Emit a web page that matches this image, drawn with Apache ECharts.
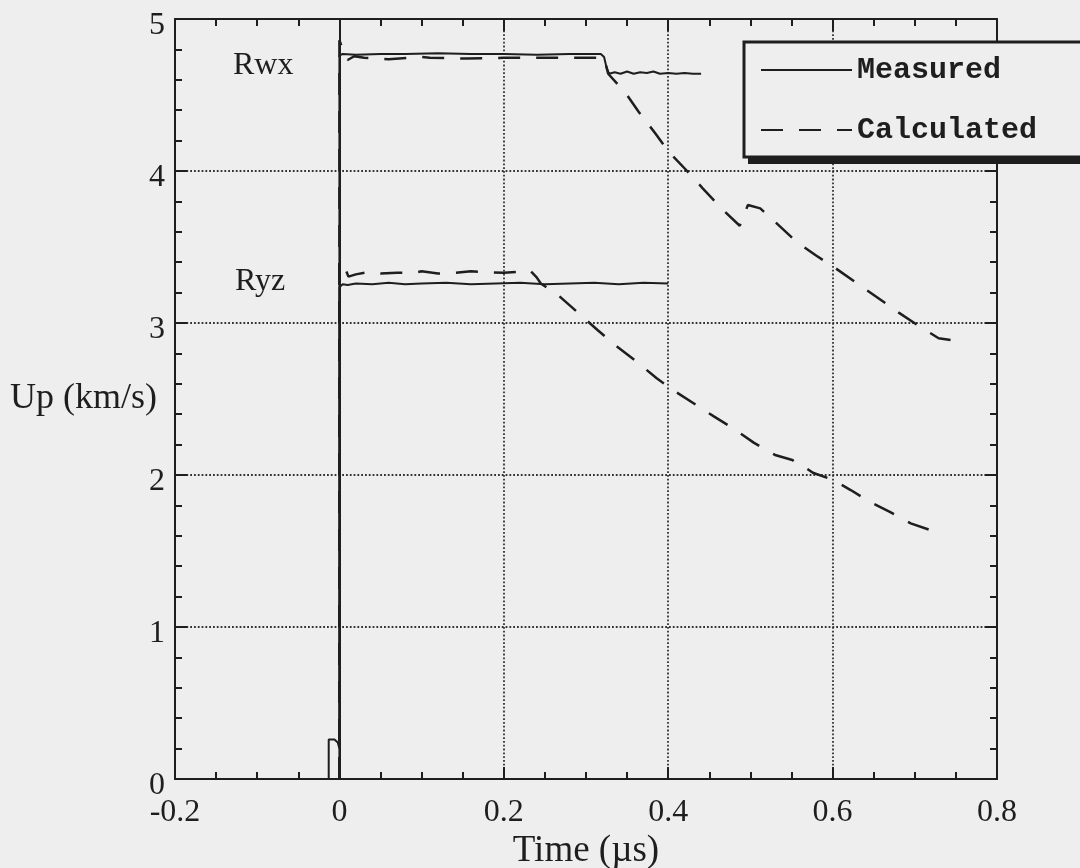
<!DOCTYPE html>
<html>
<head>
<meta charset="utf-8">
<script src="https://cdn.jsdelivr.net/npm/echarts@6/dist/echarts.min.js"></script>
<style>
  html, body { margin: 0; padding: 0; background: #eeeeee; }
  #chart { width: 1080px; height: 868px; }
</style>
</head>
<body>
<div id="chart"></div>
<script>
// Particle velocity histories for the two gauges (time in µs, Up in km/s)

// Rwx gauge, measured
const rwxMeasuredTime = [-0.2, -0.013, -0.013, -0.006, -0.002, 0, 0, 0.004, 0.02, 0.05, 0.08, 0.12, 0.16, 0.2, 0.24, 0.28, 0.318, 0.322, 0.325, 0.328, 0.335, 0.342, 0.35, 0.358, 0.366, 0.374, 0.382, 0.39, 0.4, 0.41, 0.42, 0.43, 0.44];
const rwxMeasuredUp   = [0, 0, 0.26, 0.26, 0.24, 0.20, 4.76, 4.77, 4.765, 4.77, 4.77, 4.775, 4.77, 4.77, 4.765, 4.77, 4.77, 4.75, 4.68, 4.64, 4.65, 4.64, 4.655, 4.64, 4.65, 4.645, 4.655, 4.64, 4.645, 4.64, 4.645, 4.64, 4.64];

// Ryz gauge, measured
const ryzMeasuredTime = [0, 0, 0.004, 0.01, 0.02, 0.04, 0.06, 0.08, 0.1, 0.13, 0.16, 0.19, 0.22, 0.25, 0.28, 0.31, 0.34, 0.37, 0.4];
const ryzMeasuredUp   = [0, 3.235, 3.255, 3.25, 3.26, 3.255, 3.265, 3.255, 3.26, 3.265, 3.255, 3.26, 3.265, 3.255, 3.26, 3.265, 3.255, 3.265, 3.26];

// Rwx gauge, calculated
const rwxCalculatedTime = [0, 0, 0.004, 0.01, 0.018, 0.03, 0.06, 0.1, 0.11, 0.155, 0.2, 0.25, 0.3, 0.322, 0.327, 0.348, 0.364, 0.384, 0.4, 0.423, 0.442, 0.466, 0.487, 0.497, 0.512, 0.531, 0.556, 0.579, 0.601, 0.63, 0.654, 0.68, 0.703, 0.729, 0.753, 0.759];
const rwxCalculatedUp   = [0, 4.86, 4.8, 4.73, 4.755, 4.745, 4.735, 4.75, 4.745, 4.74, 4.745, 4.745, 4.745, 4.745, 4.64, 4.515, 4.39, 4.25, 4.13, 4.0, 3.886, 3.748, 3.64, 3.776, 3.754, 3.66, 3.535, 3.447, 3.37, 3.26, 3.17, 3.07, 2.987, 2.9, 2.88, 2.9];

// Ryz gauge, calculated
const ryzCalculatedTime = [0, 0, 0.004, 0.011, 0.02, 0.035, 0.05, 0.07, 0.09, 0.1, 0.12, 0.14, 0.16, 0.18, 0.2, 0.215, 0.225, 0.232, 0.24, 0.245, 0.266, 0.291, 0.314, 0.338, 0.359, 0.386, 0.409, 0.434, 0.456, 0.481, 0.504, 0.53, 0.551, 0.559, 0.565, 0.576, 0.601, 0.622, 0.645, 0.669, 0.695, 0.721];
const ryzCalculatedUp   = [0, 3.41, 3.4, 3.305, 3.32, 3.335, 3.325, 3.33, 3.33, 3.34, 3.325, 3.33, 3.34, 3.335, 3.33, 3.335, 3.335, 3.345, 3.3, 3.26, 3.184, 3.064, 2.954, 2.844, 2.757, 2.636, 2.548, 2.461, 2.384, 2.3, 2.213, 2.132, 2.099, 2.066, 2.055, 2.015, 1.967, 1.901, 1.824, 1.759, 1.682, 1.634];

const zip = (xs, ys) => xs.map((x, i) => [x, ys[i]]);

const ink = '#1e1e1e';
const paper = '#eeeeee';
const serif = 'Liberation Serif';

const gridLine = { show: true, lineStyle: { color: '#333', width: 1.8, type: [1.8, 2] } };

function bottomOrLeft(isX) {
  const label = {
    color: ink, fontFamily: serif, fontSize: 32,
    margin: isX ? 18 : 10,
    formatter: v => String(Math.round(v * 10) / 10)
  };
  if (!isX) {
    // y labels sit slightly below their tick
    label.verticalAlign = 'top';
    label.lineHeight = 14;
  }
  return {
    type: 'value',
    min: isX ? -0.2 : 0,
    max: isX ? 0.8 : 5,
    interval: isX ? 0.2 : 1,
    axisLine: { show: true, onZero: false, lineStyle: { color: ink, width: 2 } },
    axisTick: { show: true, inside: true, length: 12, lineStyle: { color: ink, width: 2 } },
    minorTick: { show: true, splitNumber: isX ? 4 : 5, length: 7, lineStyle: { color: ink, width: 2 } },
    splitLine: gridLine,
    minorSplitLine: { show: false },
    axisLabel: label
  };
}

function topOrRight(isX) {
  return {
    type: 'value',
    position: isX ? 'top' : 'right',
    min: isX ? -0.2 : 0,
    max: isX ? 0.8 : 5,
    interval: isX ? 0.2 : 1,
    axisLine: { show: true, onZero: false, lineStyle: { color: ink, width: 2 } },
    axisTick: { show: true, inside: true, length: 12, lineStyle: { color: ink, width: 2 } },
    minorTick: { show: true, splitNumber: isX ? 4 : 5, length: 7, lineStyle: { color: ink, width: 2 } },
    splitLine: { show: false },
    axisLabel: { show: false }
  };
}

const xBottom = Object.assign(bottomOrLeft(true), {
  name: 'Time (µs)', nameLocation: 'middle', nameGap: 54, nameMoveOverlap: false,
  nameTextStyle: { color: ink, fontFamily: serif, fontSize: 37 }
});
const yLeft = Object.assign(bottomOrLeft(false), {
  name: 'Up (km/s)', nameLocation: 'middle', nameRotate: 0, nameGap: 18, nameMoveOverlap: false,
  nameTextStyle: { color: ink, fontFamily: serif, fontSize: 36, align: 'right' }
});

const measuredStyle = { color: ink, width: 2 };
const calculatedStyle = { color: ink, width: 2.5, type: [22, 16] };

// Key box: frame with a solid drop shadow, drawn behind the legend entries
const keyBox = { x: 744, y: 42, width: 420, height: 115 };

const chart = echarts.init(document.getElementById('chart'), null, { renderer: 'canvas' });
chart.setOption({
  animation: false,
  backgroundColor: paper,
  grid: { left: 175, right: 83, top: 19, bottom: 89, containLabel: false, outerBoundsMode: 'none' },
  xAxis: [xBottom, topOrRight(true)],
  yAxis: [yLeft, topOrRight(false)],
  legend: {
    data: ['Measured', 'Calculated'],
    orient: 'vertical',
    left: keyBox.x, top: keyBox.y,
    padding: [13, 20, 12, 16],
    itemGap: 30, itemWidth: 91, itemHeight: 20,
    selectedMode: false,
    z: 20,
    itemStyle: { opacity: 0 },
    textStyle: { fontFamily: 'Liberation Mono', fontWeight: 'bold', fontSize: 30, lineHeight: 30, color: ink },
    backgroundColor: 'transparent', borderWidth: 0
  },
  graphic: [
    { type: 'rect', z: 15, silent: true,
      shape: { x: keyBox.x + 4, y: keyBox.y + 7, width: keyBox.width, height: keyBox.height },
      style: { fill: ink } },
    { type: 'rect', z: 16, silent: true,
      shape: { x: keyBox.x, y: keyBox.y, width: keyBox.width, height: keyBox.height },
      style: { fill: paper, stroke: ink, lineWidth: 3 } },
    { type: 'text', left: 233, top: 50, silent: true,
      style: { text: 'Rwx', fontFamily: serif, fontSize: 32, fill: ink } },
    { type: 'text', left: 235, top: 266, silent: true,
      style: { text: 'Ryz', fontFamily: serif, fontSize: 32, fill: ink } }
  ],
  series: [
    {
      name: 'Measured', type: 'line', symbol: 'none', lineStyle: measuredStyle,
      itemStyle: { color: ink }, data: zip(rwxMeasuredTime, rwxMeasuredUp), z: 3,
      markLine: {
        silent: true, symbol: ['none', 'none'], label: { show: false },
        lineStyle: { color: ink, width: 2, type: 'solid' },
        data: [{ xAxis: 0 }]
      }
    },
    {
      name: 'Measured', type: 'line', symbol: 'none', lineStyle: measuredStyle,
      itemStyle: { color: ink }, data: zip(ryzMeasuredTime, ryzMeasuredUp), z: 3
    },
    {
      name: 'Calculated', type: 'line', symbol: 'none', lineStyle: calculatedStyle,
      itemStyle: { color: ink }, data: zip(rwxCalculatedTime, rwxCalculatedUp), z: 3
    },
    {
      name: 'Calculated', type: 'line', symbol: 'none', lineStyle: calculatedStyle,
      itemStyle: { color: ink }, data: zip(ryzCalculatedTime, ryzCalculatedUp), z: 3
    }
  ]
});
</script>
</body>
</html>
